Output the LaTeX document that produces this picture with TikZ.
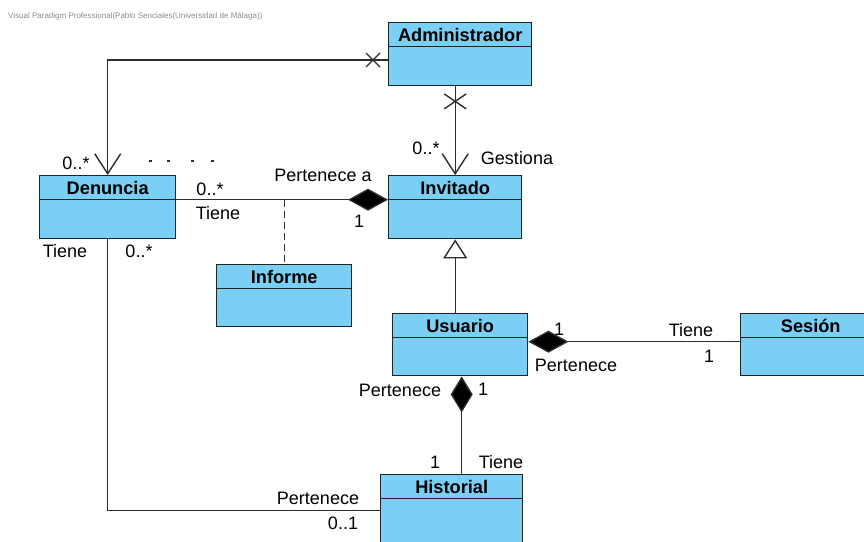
\documentclass[tikz,border=0pt]{standalone}
\usepackage{fontspec}
\setmainfont{Liberation Sans}
\usetikzlibrary{arrows.meta,calc}
\definecolor{clsfill}{RGB}{122,207,245}
\definecolor{clsline}{RGB}{35,35,35}
\definecolor{wline}{RGB}{45,45,45}
\tikzset{
 cls/.style={draw=clsline, fill=clsfill, line width=1.4pt, anchor=north west, inner sep=0pt},
 divl/.style={draw=clsline, line width=1.2pt},
 ttl/.style={font=\fontsize{18.2}{20}\selectfont\bfseries, text=black, inner sep=0pt},
 lbl/.style={font=\fontsize{18}{20}\selectfont, inner sep=0pt, text=black},
 conn/.style={draw=wline, line width=1.4pt},
 barb/.style={-{Straight Barb[length=20pt,width=26pt,line width=1.4pt]}},
 diam/.style={{Diamond[length=40pt,width=22pt,fill=black]}-},
 gen/.style={{Triangle[length=19pt,width=24pt,fill=white,line width=1.4pt]}-},
}
\newcommand{\umlclassbox}[6]{%
  \node[cls, minimum width=#4pt, minimum height=#5pt] (#1) at (#2,#3) {};
  \draw[divl] ([yshift=-24.5pt]#1.north west) -- ([yshift=-24.5pt]#1.north east);
  \node[ttl] at ([yshift=-12.5pt]#1.north) {#6};
}
\begin{document}
\begin{tikzpicture}[x=1pt,y=-1pt]
\useasboundingbox (0,0) rectangle (864,541);
\clip (0,0) rectangle (864,541);
\fill[white] (0,0) rectangle (864,541);

\node[anchor=west, font=\fontsize{8}{9}\selectfont, text=black!45, inner sep=0pt] (wm) at (8,16)
  {Visual Paradigm Professional(Pablo Senciales(Universidad de Málaga))};

% classes
\umlclassbox{adm}{388}{22}{143}{63}{Administrador}
\umlclassbox{den}{39}{175}{136}{63}{Denuncia}
\umlclassbox{inv}{388}{175}{133}{63}{Invitado}
\umlclassbox{inf}{216}{264}{135}{62}{Informe}
\umlclassbox{usu}{392}{313}{135}{62}{Usuario}
\umlclassbox{ses}{740}{313}{140}{62}{Sesión}
\umlclassbox{his}{380}{474}{142}{72}{Historial}

% Administrador -> Denuncia
\draw[conn, barb] ([yshift=-38pt]adm.north west) coordinate (s1) -| (den.north);
\draw[conn] ($(s1)+(-22,-7)$) -- ($(s1)+(-8,7)$);
\draw[conn] ($(s1)+(-22,7)$) -- ($(s1)+(-8,-7)$);

% Administrador -> Invitado
\draw[conn, barb] (adm.south -| inv.north) coordinate (s2) -- (inv.north);
\draw[conn] ($(s2)+(-11,7.5)$) -- ($(s2)+(11,22.5)$);
\draw[conn] ($(s2)+(-11,22.5)$) -- ($(s2)+(11,7.5)$);

% Invitado <>- Denuncia
\draw[conn, diam] ([yshift=7.5pt]inv.west) coordinate (s3) -- (s3 -| den.east);
\coordinate (m1) at (inf.north |- s3);
\draw[conn, dash pattern=on 7pt off 4pt] (m1) -- (inf.north);

% Invitado <|- Usuario
\draw[conn, gen] (inv.south) -- (inv.south |- usu.north);

% Usuario <>- Sesion
\draw[conn, diam] ([yshift=3pt]usu.east) coordinate (s4) -- (s4 -| ses.west);

% Usuario <>- Historial
\draw[conn, {Diamond[length=36pt,width=22pt,fill=black]}-] ([xshift=1.5pt]usu.south) coordinate (s5) -- (s5 |- his.north);

% Denuncia -- Historial
\draw[conn] (den.south) |- (his.west);

% dotted fragment
\foreach \xx in {150,168,192,212} \draw[line width=1.6pt, wline] (\xx-1.5,161) -- (\xx+1.5,161);

% labels
\node[lbl] at (76,163) {0..*};
\node[lbl] at (210,189) {0..*};
\node[lbl] at (218,213) {Tiene};
\node[lbl] at (65,251) {Tiene};
\node[lbl] at (139,251) {0..*};
\node[lbl] at (323,175) {Pertenece a};
\node[lbl] at (359,221) {1};
\node[lbl] at (426,148) {0..*};
\node[lbl] at (517,158) {Gestiona};
\node[lbl] at (559,329) {1};
\node[lbl] at (691,330) {Tiene};
\node[lbl] at (576,365) {Pertenece};
\node[lbl] at (709,356) {1};
\node[lbl] at (400,390) {Pertenece};
\node[lbl] at (483,389) {1};
\node[lbl] at (435,462) {1};
\node[lbl] at (501,462) {Tiene};
\node[lbl] at (318,498) {Pertenece};
\node[lbl] at (343,523) {0..1};
\end{tikzpicture}
\end{document}
